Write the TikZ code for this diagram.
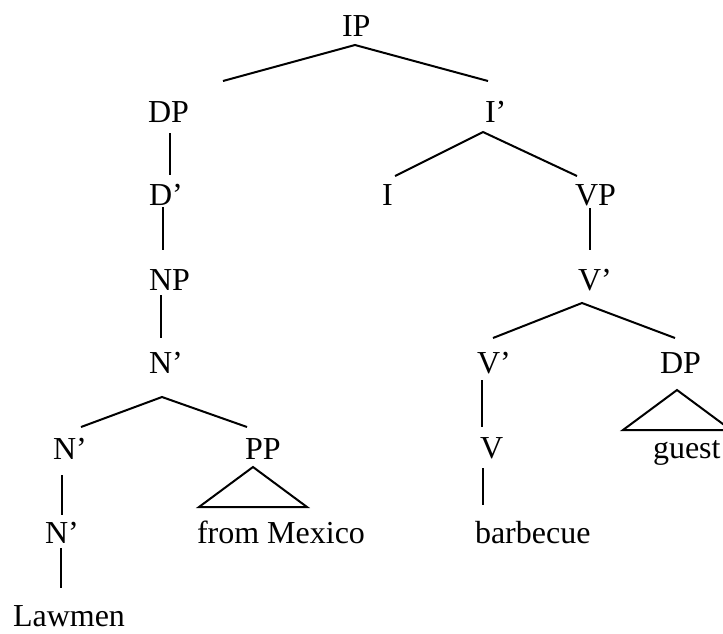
\documentclass[tikz,border=0pt]{standalone}
\usepackage{fontspec}
\setmainfont{Liberation Serif}
\begin{document}
\begin{tikzpicture}[x=1pt,y=-1pt,
  lbl/.style={anchor=base west,inner sep=0pt,outer sep=0pt,font=\fontsize{32}{38}\selectfont},
  branch/.style={line width=2pt,line cap=butt,line join=miter}]
\useasboundingbox (0,0) rectangle (723,633);
\fill[white] (0,0) rectangle (723,633);

% category labels and words
\node[lbl] (ip)   at (342,36)  {IP};
\node[lbl] (dp)   at (148,122) {DP};
\node[lbl] (ibar) at (485,122) {I’};
\node[lbl] (dbar) at (149,205) {D’};
\node[lbl] (i)    at (382,205) {I};
\node[lbl] (vp)   at (575,205) {VP};
\node[lbl] (np)   at (149,290) {NP};
\node[lbl] (vbar) at (578,290) {V’};
\node[lbl] (nbar) at (149,373) {N’};
\node[lbl] (vbarb) at (477,373) {V’};
\node[lbl] (dpo)  at (660,373) {DP};
\node[lbl] (nbara) at (53,459) {N’};
\node[lbl] (pp)   at (245,459) {PP};
\node[lbl] (v)    at (480,458) {V};
\node[lbl] (guest) at (653,458) {guest};
\node[lbl] (nbarb) at (45,543) {N’};
\node[lbl] (mex)  at (197,543) {from Mexico};
\node[lbl] (bbq)  at (475,543) {barbecue};
\node[lbl] (law)  at (13,626)  {Lawmen};

% branch end points
\coordinate (ipTop) at (355,45);
\coordinate (ipL) at (223,81);
\coordinate (ipR) at (488,81);
\coordinate (ibTop) at (483,132);
\coordinate (ibL) at (395,176);
\coordinate (ibR) at (577,176);
\coordinate (nbTop) at (162,397);
\coordinate (nbL) at (81,427);
\coordinate (nbR) at (247,427);
\coordinate (vbTop) at (582,303);
\coordinate (vbL) at (493,338);
\coordinate (vbR) at (675,338);

% binary branches
\draw[branch] (ipL) -- (ipTop) -- (ipR);
\draw[branch] (ibL) -- (ibTop) -- (ibR);
\draw[branch] (nbL) -- (nbTop) -- (nbR);
\draw[branch] (vbL) -- (vbTop) -- (vbR);

% unary branches
\coordinate (dpD) at (170,133);  \coordinate (dbU) at (170,175);
\coordinate (dbD) at (163,207);  \coordinate (npU) at (163,250);
\coordinate (npD) at (161,295);  \coordinate (nbU) at (161,338);
\coordinate (vpD) at (590,208);  \coordinate (vbU) at (590,250);
\coordinate (naD) at (62,475);   \coordinate (nbbU) at (62,515);
\coordinate (nbbD) at (61,548);  \coordinate (lawU) at (61,588);
\coordinate (vbbD) at (482,380); \coordinate (vU) at (482,427);
\coordinate (vD) at (483,468);   \coordinate (bbqU) at (483,505);
\draw[branch] (dpD) -- (dbU);
\draw[branch] (dbD) -- (npU);
\draw[branch] (npD) -- (nbU);
\draw[branch] (vpD) -- (vbU);
\draw[branch] (naD) -- (nbbU);
\draw[branch] (nbbD) -- (lawU);
\draw[branch] (vbbD) -- (vU);
\draw[branch] (vD) -- (bbqU);

% roofs over unanalysed phrases
\coordinate (ppTop) at (253,467);
\coordinate (ppL) at (199,507);
\coordinate (ppR) at (307,507);
\draw[branch] (ppTop) -- (ppR) -- (ppL) -- cycle;
\coordinate (dpoTop) at (677,390);
\coordinate (dpoL) at (623,430);
\coordinate (dpoR) at (731,430);
\draw[branch] (dpoTop) -- (dpoR) -- (dpoL) -- cycle;
\end{tikzpicture}
\end{document}
